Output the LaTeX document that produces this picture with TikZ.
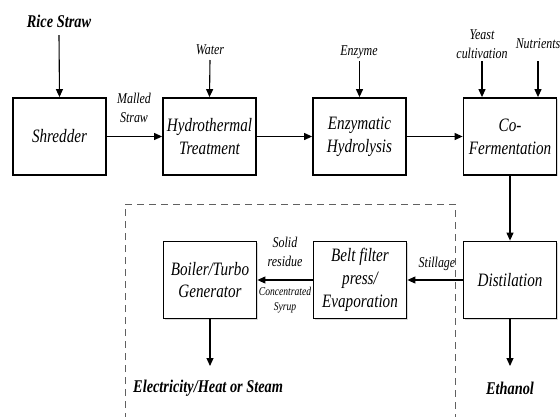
\documentclass[tikz,border=0pt]{standalone}
\usepackage{fontspec}
\setmainfont{Liberation Serif}[FakeStretch=0.8]
\usetikzlibrary{arrows.meta,shadows}
\begin{document}
\begin{tikzpicture}[x=1bp,y=-1bp,
  proc/.style={draw,line width=1.8bp,fill=white,minimum width=93bp,minimum height=77bp,
    align=center,font=\fontsize{19}{23}\selectfont\itshape,inner sep=1bp,
    drop shadow={shadow xshift=1.2bp,shadow yshift=-1.2bp,opacity=0.3}},
  arr/.style={-{Triangle[length=8bp,width=7bp]},line width=1.1bp},
  lab/.style={font=\fontsize{15}{19}\selectfont\itshape,align=center,inner sep=0bp},
  small/.style={font=\fontsize{12}{15}\selectfont\itshape,align=center,inner sep=0bp},
  big/.style={font=\fontsize{18}{20}\selectfont\bfseries\itshape,inner sep=0bp}]
\useasboundingbox (0,0) rectangle (560,416);
% dashed region
\draw[dash pattern=on 7bp off 5bp,gray!75!black,line width=0.9bp]
  (125,420) -- (125,204) -- (455,204) -- (455,420);
% process boxes
\node[proc] (shr) at (59.5,136.5) {Shredder};
\node[proc] (hyd) at (209.5,136.5) {Hydrothermal\\Treatment};
\node[proc] (enz) at (359.5,136.5) {Enzymatic\\Hydrolysis};
\node[proc] (cof) at (510,136.5) {Co-\\Fermentation};
\node[proc] (dis) at (510,280) {Distilation};
\node[proc] (bel) at (360,280) {Belt filter\\press/\\Evaporation};
\node[proc] (boi) at (210,280) {Boiler/Turbo\\Generator};
% inputs
\node[big] (rice) at (59,21) {Rice Straw};
\node[lab] (water) at (210,50) {Water};
\node[lab] (enzy) at (359,52) {Enzyme};
\node[lab] (yeast) at (482,44) {Yeast\\cultivation};
\node[lab] (nutr) at (538,44) {Nutrients};
\coordinate (riceE) at (59,35);
\coordinate (waterE) at (210,60);
\coordinate (enzyE) at (359.5,61);
\coordinate (yeastE) at (482,61);
\coordinate (nutrE) at (538,61);
\draw[arr] (riceE) -- (shr.north);
\draw[arr] (waterE) -- (hyd.north);
\draw[arr] (enzyE) -- (enz.north);
\draw[arr] (yeastE) -- (yeastE |- cof.north);
\draw[arr] (nutrE) -- (nutrE |- cof.north);
% main flow
\draw[arr] (shr.east) -- (hyd.west);
\node[lab] (malled) at (134,108) {Malled\\Straw};
\draw[arr] (hyd.east) -- (enz.west);
\draw[arr] (enz.east) -- (cof.west);
\draw[arr] (cof.south) -- (dis.north);
\draw[arr] (dis.west) -- (bel.east);
\node[lab] (still) at (437,264) {Stillage};
\draw[arr] (bel.west) -- (boi.east);
\node[lab] (solid) at (285,252) {Solid\\residue};
\node[small] (conc) at (285,300) {Concentrated\\Syrup};
% outputs
\node[big,anchor=west] (elec) at (133,388) {Electricity/Heat or Steam};
\node[big] (eth) at (510,388) {Ethanol};
\coordinate (elecE) at (210,366);
\coordinate (ethE) at (510,366);
\draw[arr] (boi.south) -- (elecE);
\draw[arr] (dis.south) -- (ethE);
\end{tikzpicture}
\end{document}
